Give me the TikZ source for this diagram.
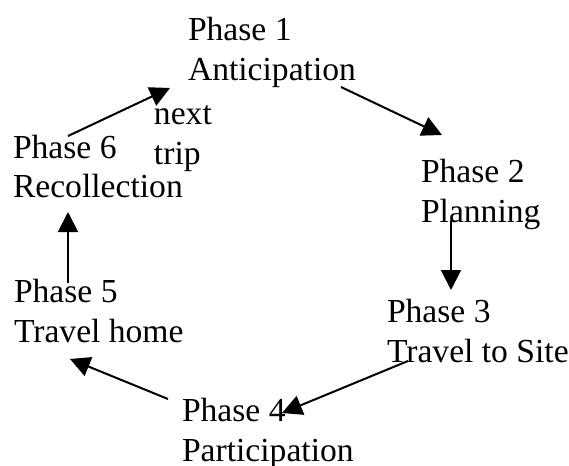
\documentclass[tikz,border=0pt]{standalone}
\usepackage{fontspec}
\setmainfont{Liberation Serif}
\usetikzlibrary{arrows.meta}
\begin{document}
\begin{tikzpicture}[x=0.5pt, y=-0.5pt, line width=1pt, >={Triangle[length=10pt,width=10pt]},
        main/.style = {anchor=base west, inner sep=0pt, align=left, font=\fontsize{16.8}{20}\selectfont}]
        \useasboundingbox (0,0) rectangle (569,466);
        \node[main] (1) at (187,80) {Phase 1\\Anticipation};
        \node[main] (2) at (420,222) {Phase 2\\Planning};
        \node[main] (3) at (386,362) {Phase 3\\Travel to Site};
        \node[main] (4) at (181,461) {Phase 4\\Participation};
        \node[main] (5) at (13,342) {Phase 5\\Travel home};
        \node[main] (6) at (12,198) {Phase 6\\Recollection};
        \node[main] (next) at (153,164) {next\\trip};
        % arrow ends
        \coordinate (a1) at (341,87);
        \coordinate (a2) at (442,135);
        \coordinate (b1) at (451,220);
        \coordinate (b2) at (451,290);
        \coordinate (c1) at (408,361);
        \coordinate (c2) at (282,413);
        \coordinate (d1) at (168,399);
        \coordinate (d2) at (70,359);
        \coordinate (e1) at (68,283);
        \coordinate (e2) at (68,212);
        \coordinate (f1) at (68,136);
        \coordinate (f2) at (170,88);
        \draw[->] (a1) -- (a2);
        \draw[->] (b1) -- (b2);
        \draw[->] (c1) -- (c2);
        \draw[->] (d1) -- (d2);
        \draw[->] (e1) -- (e2);
        \draw[->] (f1) -- (f2);
    \end{tikzpicture}
\end{document}
